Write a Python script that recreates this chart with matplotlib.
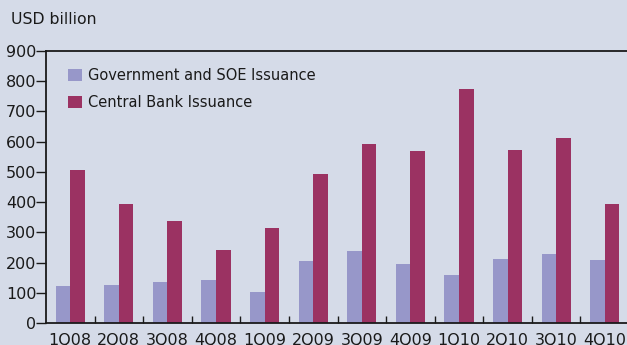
import matplotlib.pyplot as plt
import numpy as np

quarters = ["1Q08", "2Q08", "3Q08", "4Q08", "1Q09", "2Q09",
            "3Q09", "4Q09", "1Q10", "2Q10", "3Q10", "4Q10"]
gov_soe = [122, 126, 136, 142, 103, 205, 238, 195, 159, 212, 228, 208]
central_bank = [506, 394, 338, 242, 314, 493, 592, 569, 774, 572, 612, 394]

BG = "#d5dbe8"
GOV_COLOR = "#9797c9"
CB_COLOR = "#9b3262"

fig = plt.figure(figsize=(6.27, 3.45), dpi=100, facecolor=BG)
ax = fig.add_axes([46 / 627, 22 / 345, 583 / 627, 272 / 345], facecolor=BG)

x = np.arange(len(quarters))
width = 0.3
ax.bar(x - width / 2, gov_soe, width, color=GOV_COLOR, label="Government and SOE Issuance")
ax.bar(x + width / 2, central_bank, width, color=CB_COLOR, label="Central Bank Issuance")

ax.set_xlim(-0.5, len(quarters) - 0.5)
ax.set_ylim(0, 900)
ax.set_yticks(range(0, 901, 100))
ax.set_xticks(x)
ax.set_xticklabels(quarters)
ax.set_xticks(x[:-1] + 0.5, minor=True)

ax.tick_params(axis="y", direction="out", length=7, width=1, labelsize=11.5, pad=0, colors="#1a1a1a")
ax.tick_params(axis="x", which="major", length=0, labelsize=11.5, pad=7, colors="#1a1a1a")
ax.tick_params(axis="x", which="minor", direction="in", length=5, width=1, color="#1a1a1a")

for side in ["left", "bottom", "top"]:
    ax.spines[side].set_color("#1a1a1a")
    ax.spines[side].set_linewidth(1.3)
ax.spines["right"].set_visible(False)

fig.text(11 / 627, 1 - 20 / 345, "USD billion", fontsize=11.3, color="#1a1a1a", va="center", ha="left")

ax.legend(loc="upper left", bbox_to_anchor=(0.016, 0.985), frameon=False, fontsize=10.5,
          handlelength=0.9, handleheight=0.9, handletextpad=0.45, labelspacing=0.8,
          labelcolor="#1a1a1a")

fig.savefig("out.png", dpi=100, facecolor=BG)
